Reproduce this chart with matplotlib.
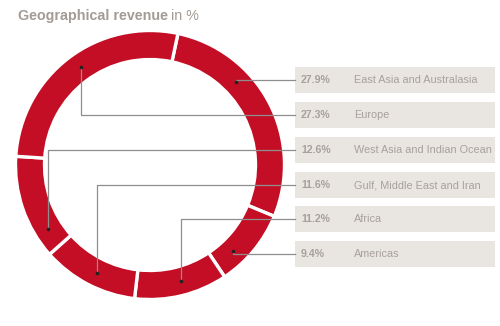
import matplotlib
matplotlib.use("Agg")
import matplotlib.pyplot as plt
import numpy as np

# data, clockwise from the gap near the top
regions = ['East Asia and Australasia', 'Americas', 'Africa',
           'Gulf, Middle East and Iran', 'West Asia and Indian Ocean', 'Europe']
shares = [27.9, 9.4, 11.2, 11.6, 12.6, 27.3]

# order of the list on the right
legend_order = ['East Asia and Australasia', 'Europe', 'West Asia and Indian Ocean',
                'Gulf, Middle East and Iran', 'Africa', 'Americas']

# where the little dot sits inside each wedge (degrees clockwise from top)
dot_angle = {'East Asia and Australasia': 46, 'Americas': 136, 'Africa': 165,
             'Gulf, Middle East and Iran': 206, 'West Asia and Indian Ocean': 238,
             'Europe': 325}

RED = '#c30e25'
BOX = '#e9e5e0'
TXT = '#a8a19b'
W, H = 500, 326

fig = plt.figure(figsize=(5, 3.26), dpi=100)
ax = fig.add_axes([0, 0, 1, 1])
ax.set_xlim(0, W)
ax.set_ylim(0, H)
ax.set_aspect('equal')
ax.axis('off')

cx, cy = 150, H - 165
r_out, width = 134.5, 29
ax.pie(shares, center=(cx, cy), radius=r_out, startangle=78, counterclock=False,
       colors=[RED] * len(shares),
       wedgeprops=dict(width=width, edgecolor='white', linewidth=2.4))
ax.set_xlim(0, W)
ax.set_ylim(0, H)

font = ['Liberation Sans', 'DejaVu Sans']
box_x0, box_x1 = 295, 495
row_y = [80, 115, 150, 185, 219, 254]
val = dict(zip(regions, shares))
r_mid = 120
for name, yp in zip(legend_order, row_y):
    y = H - yp
    ax.add_patch(plt.Rectangle((box_x0, y - 13), box_x1 - box_x0, 26,
                               facecolor=BOX, edgecolor='none', zorder=1))
    ax.text(box_x0 + 6, y, f'{val[name]}%', fontsize=7.6, fontweight='bold',
            color=TXT, va='center', family=font)
    ax.text(box_x0 + 59, y, name, fontsize=7.8, color=TXT, va='center', family=font)
    th = np.radians(dot_angle[name])
    dx = cx + r_mid * np.sin(th)
    dy = cy + r_mid * np.cos(th)
    ax.plot([dx, dx, box_x0], [dy, y, y], color='#8e8e8e', lw=0.9, zorder=3)
    ax.plot(dx, dy, 'o', color='#222222', ms=1.6, zorder=4)

# title: bold part then regular "in %" right after it
t1 = fig.text(18 / W, 1 - 16 / H, 'Geographical revenue', fontsize=10.3, fontweight='bold',
              color='#a39b94', va='center', family=font)
fig.canvas.draw()
bb = t1.get_window_extent()
fig.text(bb.x1 / W + 3 / W, 1 - 16 / H, 'in %', fontsize=10.3,
         color='#a39b94', va='center', family=font)

fig.savefig('out.png', dpi=100)
